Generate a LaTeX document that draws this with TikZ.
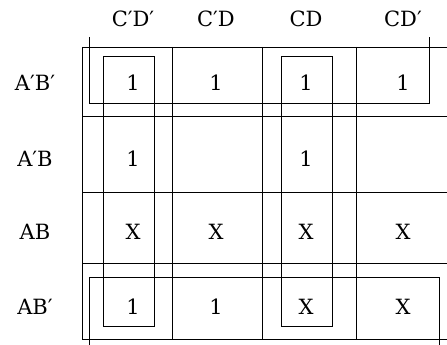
\documentclass[tikz,border=0pt]{standalone}
\usepackage{fontspec}
\setmainfont{DejaVu Serif}
\usetikzlibrary{positioning}
\tikzset{
  kline/.style ={draw, line width=0.7pt},
  loopbox/.style={draw, line width=0.7pt},
  entry/.style ={anchor=base, inner sep=0pt, font=\fontsize{21}{24}\selectfont},
  lab/.style   ={anchor=base, inner sep=0pt, font=\fontsize{21}{24}\selectfont},
}
\begin{document}
\begin{tikzpicture}[x=1pt, y=-1pt]
  \useasboundingbox (0,0) rectangle (447,345);
  % --- map grid (right edge runs off the page) ---
  \foreach \y in {47,116,192,263,339} {\draw[kline] (82,\y) -- (448,\y);}
  \foreach \x in {82,172,262,356} {\draw[kline] (\x,47) -- (\x,339);}
  % --- column and row labels ---
  \foreach \x/\t/\n in {133/C′D′/c1, 216/C′D/c2, 306/CD/c3, 403/CD′/c4}
    {\node[lab] (\n) at (\x,27) {\t};}
  \foreach \y/\t/\n in {90/A′B′/r1, 166.5/A′B/r2, 239/AB/r3, 314.5/AB′/r4}
    {\node[lab] (\n) at (35,\y) {\t};}
  % --- cell entries ---
  \foreach \x/\v [count=\c] in {133/1, 216/1, 306/1, 403/1}
    {\node[entry] (a\c) at (\x,90) {\v};}
  \node[entry] (b1) at (133,166.5) {1};
  \node[entry] (b3) at (306,166.5) {1};
  \foreach \x/\v [count=\c] in {133/X, 216/X, 306/X, 403/X}
    {\node[entry] (d\c) at (\x,239) {\v};}
  \foreach \x/\v [count=\c] in {133/1, 216/1, 306/X, 403/X}
    {\node[entry] (f\c) at (\x,314.5) {\v};}
  % --- groups: C'D' column, CD column ---
  \draw[loopbox] (103,56) rectangle (154,326.5);
  \draw[loopbox] (281,56) rectangle (332,326.5);
  % --- wrap-around group: top row and bottom row ---
  \draw[loopbox] (89,37) |- (429,103) -- (429,37);
  \draw[loopbox] (89,346) |- (439,277) -- (439,346);
\end{tikzpicture}
\end{document}
